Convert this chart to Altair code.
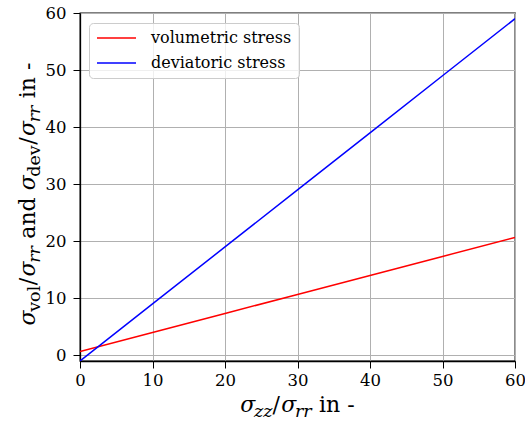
import altair as alt
import pandas as pd

# Stress ratios against the axial/radial stress ratio
sigma_zz = [0, 10, 20, 30, 40, 50, 60]
volumetric = [0.67, 4.0, 7.33, 10.67, 14.0, 17.33, 20.67]
deviatoric = [-1, 9, 19, 29, 39, 49, 59]
series_names = ["volumetric stress", "deviatoric stress"]
series_colors = ["#ff0000", "#0000ff"]
tick_values = [0, 10, 20, 30, 40, 50, 60]

df = pd.DataFrame(
    {
        "x": sigma_zz * 2,
        "value": volumetric + deviatoric,
        "series": [series_names[0]] * len(sigma_zz) + [series_names[1]] * len(sigma_zz),
    }
)

W, H = 435, 348
SERIF = "DejaVu Serif"

lines = (
    alt.Chart(df)
    .mark_line(strokeWidth=1.5, clip=True)
    .encode(
        x=alt.X(
            "x:Q",
            scale=alt.Scale(domain=[0, 60], nice=False, zero=False),
            axis=alt.Axis(values=tick_values, title=None, labelFlush=False, labelPadding=4),
        ),
        y=alt.Y(
            "value:Q",
            scale=alt.Scale(domain=[-1, 60], nice=False, zero=False),
            axis=alt.Axis(values=tick_values, title=None, labelPadding=7),
        ),
        color=alt.Color(
            "series:N",
            sort=series_names,
            scale=alt.Scale(domain=series_names, range=series_colors),
            legend=alt.Legend(
                title=None,
                orient="none",
                legendX=9,
                legendY=10,
                fillColor="rgba(255,255,255,0.8)",
                strokeColor="#cccccc",
                cornerRadius=4,
                padding=7,
                symbolType="stroke",
                symbolSize=1521,
                symbolStrokeWidth=1.5,
                labelFont=SERIF,
                labelFontSize=16,
                labelColor="black",
                labelOffset=14,
                rowPadding=9,
                clipHeight=16,
            ),
        ),
        detail="series:N",
    )
)

one_row = pd.DataFrame({"k": [0]})

MAIN, SUB, SHIFT = 22, 17.5, 5

# approximate advance widths (em) of the glyphs used in the axis titles
ADV = {
    ("σ", True): 0.62, ("z", True): 0.53, ("r", True): 0.49,
    ("a", False): 0.596, ("n", False): 0.644, ("d", False): 0.640,
    ("i", False): 0.320, (" ", False): 0.318, ("-", False): 0.338,
    ("v", False): 0.592, ("o", False): 0.602, ("l", False): 0.320,
    ("e", False): 0.592, ("/", False): 0.40,
}


def run_width(text, size, italic):
    return sum(ADV[(c, italic)] for c in text) * size


def title_marks(runs, center, base, vertical):
    """Lay out (text, italic, subscript) runs along one line, centred on `center`."""
    sizes = [SUB if sub else MAIN for _, _, sub in runs]
    widths = [run_width(t, s, it) for (t, it, _), s in zip(runs, sizes)]
    total = sum(widths)
    pos = center + total / 2 if vertical else center - total / 2
    marks = []
    for (text, italic, sub), size, w in zip(runs, sizes, widths):
        # leading blanks are collapsed when drawn, so turn them into an offset
        lead = run_width(text[: len(text) - len(text.lstrip())], size, italic)
        start = pos - lead if vertical else pos + lead
        if vertical:
            x, y = base + (SHIFT if sub else 0), start
        else:
            x, y = start, base + (SHIFT if sub else 0)
        marks.append(
            alt.Chart(one_row)
            .mark_text(
                align="left",
                baseline="alphabetic",
                font=SERIF,
                fontSize=size,
                fontStyle="italic" if italic else "normal",
                angle=270 if vertical else 0,
                color="black",
            )
            .encode(x=alt.value(x), y=alt.value(y), text=alt.value(text.strip()))
        )
        pos = pos - w if vertical else pos + w
    return marks


# σ_zz/σ_rr in -
x_runs = [
    ("σ", True, False), ("zz", True, True), ("/", False, False),
    ("σ", True, False), ("rr", True, True), (" in -", False, False),
]
# σ_vol/σ_rr and σ_dev/σ_rr in -
y_runs = [
    ("σ", True, False), ("vol", False, True), ("/", False, False),
    ("σ", True, False), ("rr", True, True), (" and ", False, False),
    ("σ", True, False), ("dev", False, True), ("/", False, False),
    ("σ", True, False), ("rr", True, True), (" in -", False, False),
]

x_title = title_marks(x_runs, center=W / 2, base=399, vertical=False)
y_title = title_marks(y_runs, center=181, base=-45, vertical=True)

chart = (
    alt.layer(lines, *x_title, *y_title)
    .properties(
        width=W,
        height=H,
        autosize=alt.AutoSizeParams(type="none"),
        padding={"left": 80, "top": 13, "right": 10, "bottom": 68},
    )
    .configure_view(stroke="black", strokeWidth=1.3)
    .configure_axis(
        grid=True,
        gridColor="#b0b0b0",
        gridWidth=1,
        domainColor="black",
        domainWidth=1.3,
        tickColor="black",
        tickWidth=1,
        tickSize=7,
        labelFont=SERIF,
        labelFontSize=16.5,
        labelColor="black",
        labelOverlap=False,
    )
)

chart.save("out.html", embed_options={"renderer": "svg", "actions": False})
